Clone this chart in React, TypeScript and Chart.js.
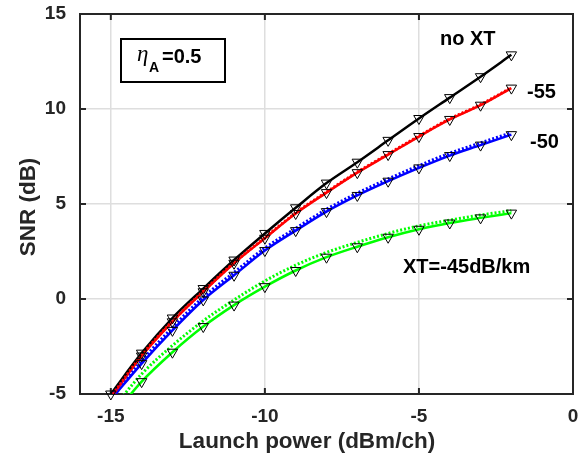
import React, { useEffect, useRef } from "react";
import { Chart, registerables } from "chart.js";

Chart.register(...registerables);

// ---- data ----
const launchPower = [-15, -14, -13, -12, -11, -10, -9, -8, -7, -6, -5, -4, -3, -2];
const xTicks = [-15, -10, -5, 0];
const yTicks = [-5, 0, 5, 10, 15];

const snrNoXT = [-5.0, -2.85, -1.0, 0.55, 2.05, 3.45, 4.8, 6.1, 7.2, 8.35, 9.5, 10.6, 11.7, 12.85];
const snrXT55 = [-5.2, -3.0, -1.2, 0.38, 1.88, 3.2, 4.5, 5.6, 6.65, 7.6, 8.55, 9.45, 10.2, 11.1];
const snrXT50 = [-5.3, -3.4, -1.65, -0.05, 1.25, 2.55, 3.6, 4.6, 5.45, 6.2, 6.9, 7.55, 8.1, 8.65];
const snrXT45 = [-6.3, -4.35, -2.8, -1.45, -0.32, 0.65, 1.5, 2.2, 2.75, 3.25, 3.67, 4.0, 4.27, 4.52];

const snrXT55Dot = [-5.17, -2.97, -1.17, 0.41, 1.91, 3.23, 4.53, 5.63, 6.68, 7.63, 8.58, 9.48, 10.23, 11.13];
const snrXT50Dot = [-5.15, -3.25, -1.5, 0.1, 1.4, 2.68, 3.72, 4.72, 5.57, 6.32, 7.02, 7.67, 8.22, 8.75];
const snrXT45Dot = [-5.9, -3.95, -2.45, -1.15, -0.05, 0.95, 1.78, 2.45, 2.98, 3.45, 3.85, 4.15, 4.42, 4.65];

const FONT = '"Liberation Sans", Arial, Helvetica, sans-serif';
const AXIS_COLOR = "#262626";

function pts(ys: number[]) {
  return launchPower.map((x, i) => ({ x, y: ys[i] }));
}

const framePlugin = {
  id: "frame",
  beforeDatasetsDraw(chart: any) {
    const { ctx, chartArea } = chart;
    const { left, right, top, bottom } = chartArea;
    const xs = chart.scales.x;
    const ys = chart.scales.y;
    ctx.save();
    ctx.strokeStyle = AXIS_COLOR;
    ctx.lineWidth = 2;
    ctx.strokeRect(left, top, right - left, bottom - top);
    const tl = 6;
    ctx.beginPath();
    for (const v of xTicks) {
      const px = xs.getPixelForValue(v);
      ctx.moveTo(px, bottom);
      ctx.lineTo(px, bottom - tl);
      ctx.moveTo(px, top);
      ctx.lineTo(px, top + tl);
    }
    for (const v of yTicks) {
      const py = ys.getPixelForValue(v);
      ctx.moveTo(left, py);
      ctx.lineTo(left + tl, py);
      ctx.moveTo(right, py);
      ctx.lineTo(right - tl, py);
    }
    ctx.stroke();
    ctx.restore();
  },
  afterDraw(chart: any) {
    const { ctx } = chart;
    ctx.save();
    // axis titles
    ctx.fillStyle = AXIS_COLOR;
    ctx.font = `bold 22.5px ${FONT}`;
    ctx.textAlign = "center";
    ctx.textBaseline = "alphabetic";
    ctx.fillText("Launch power (dBm/ch)", 307, 448);
    ctx.save();
    ctx.translate(35, 207);
    ctx.rotate(-Math.PI / 2);
    ctx.fillText("SNR (dB)", 0, 0);
    ctx.restore();

    // annotations
    ctx.fillStyle = "#000";
    ctx.textAlign = "left";
    ctx.font = `bold 20px ${FONT}`;
    ctx.fillText("no XT", 440, 45);
    ctx.fillText("-55", 527, 98);
    ctx.fillText("-50", 530, 148);
    ctx.fillText("XT=-45dB/km", 403, 273);

    // eta box
    ctx.strokeStyle = "#000";
    ctx.lineWidth = 2;
    ctx.strokeRect(121, 39, 104, 43);
    ctx.font = `italic 23px "Liberation Serif", "DejaVu Serif", serif`;
    ctx.fillText("η", 137, 61);
    ctx.font = `bold 14px ${FONT}`;
    ctx.fillText("A", 149, 72);
    ctx.font = `bold 20px ${FONT}`;
    ctx.fillText("=0.5", 162, 63);
    ctx.restore();
  },
};

export default function App() {
  const ref = useRef<HTMLCanvasElement>(null);

  useEffect(() => {
    if (!ref.current) return;
    const solid = (label: string, ys: number[], color: string, order: number) => ({
      label,
      data: pts(ys),
      borderColor: color,
      backgroundColor: color,
      borderWidth: 2.5,
      pointRadius: 0,
      cubicInterpolationMode: "monotone" as const,
      order,
    });
    const dotted = (label: string, ys: number[], color: string, order: number) => ({
      label,
      data: pts(ys),
      borderColor: color,
      backgroundColor: color,
      borderWidth: 3,
      borderDash: [2, 2],
      pointRadius: 0,
      cubicInterpolationMode: "monotone" as const,
      order,
    });
    const markers = (label: string, ys: number[], order: number) => ({
      label,
      data: pts(ys).filter((p) => p.y >= -5),
      showLine: false,
      pointStyle: "triangle" as const,
      pointRotation: 180,
      pointRadius: 6,
      pointBorderWidth: 1,
      pointBorderColor: "#000",
      pointBackgroundColor: "rgba(0,0,0,0)",
      borderColor: "#000",
      clip: false as const,
      order,
    });

    const chart = new Chart(ref.current, {
      type: "line",
      data: {
        datasets: [
          markers("m-noXT", snrNoXT, 0),
          markers("m-55", snrXT55, 0),
          markers("m-50", snrXT50, 0),
          markers("m-45", snrXT45, 0),
          dotted("-55 dot", snrXT55Dot, "#ff0000", 1),
          dotted("-50 dot", snrXT50Dot, "#0000ff", 1),
          dotted("-45 dot", snrXT45Dot, "#00ff00", 1),
          solid("no XT", snrNoXT, "#000000", 2),
          solid("-55", snrXT55, "#ff0000", 3),
          solid("-50", snrXT50, "#0000ff", 3),
          solid("-45", snrXT45, "#00ff00", 3),
        ] as any,
      },
      options: {
        responsive: false,
        maintainAspectRatio: false,
        animation: false,
        layout: { padding: { top: 14, right: 9, left: 0, bottom: 0 } },
        plugins: {
          legend: { display: false },
          tooltip: { enabled: false },
        },
        scales: {
          x: {
            type: "linear",
            min: -16,
            max: 0,
            afterBuildTicks: (s: any) => {
              s.ticks = xTicks.map((v) => ({ value: v }));
            },
            afterFit: (s: any) => {
              s.height = 63;
            },
            ticks: {
              color: AXIS_COLOR,
              font: { family: FONT, size: 19, weight: "bold" },
              padding: 0,
              maxRotation: 0,
              callback: (v: any) => String(v),
            },
            grid: {
              color: "#dedede",
              lineWidth: 1.5,
              drawTicks: true,
              tickLength: 11,
              tickColor: "rgba(0,0,0,0)",
            },
            border: { display: false },
          },
          y: {
            type: "linear",
            min: -5,
            max: 15,
            afterBuildTicks: (s: any) => {
              s.ticks = yTicks.map((v) => ({ value: v }));
            },
            afterFit: (s: any) => {
              s.width = 80;
            },
            ticks: {
              color: AXIS_COLOR,
              font: { family: FONT, size: 19, weight: "bold" },
              padding: 0,
              callback: (v: any) => String(v),
            },
            grid: {
              color: "#dedede",
              lineWidth: 1.5,
              drawTicks: true,
              tickLength: 14,
              tickColor: "rgba(0,0,0,0)",
            },
            border: { display: false },
          },
        },
      } as any,
      plugins: [framePlugin],
    });
    return () => chart.destroy();
  }, []);

  return (
    <div style={{ position: "fixed", left: 0, top: 0, width: 582, height: 457, background: "#fff" }}>
      <canvas ref={ref} width={582} height={457} style={{ display: "block" }} />
    </div>
  );
}
